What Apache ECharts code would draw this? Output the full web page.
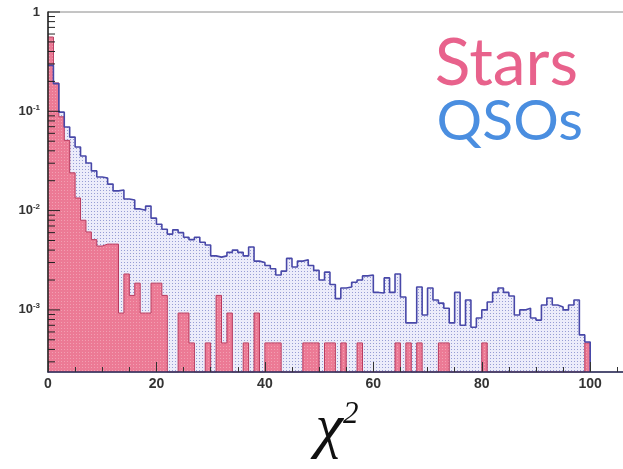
<!DOCTYPE html>
<html>
<head>
<meta charset="utf-8">
<script src="https://cdn.jsdelivr.net/npm/echarts@6/dist/echarts.min.js"></script>
<style>
html,body{margin:0;padding:0;background:#fff;}
#chart{width:623px;height:469px;}
</style>
</head>
<body>
<div id="chart"></div>
<script>
// ---- data (bin left edges 0..99, width 1) ----
const binWidth = 1;
const qsoValues = [
  0.29, 0.19, 0.098, 0.0695, 0.055, 0.0437, 0.0355, 0.0302, 0.0251, 0.0218,
  0.0213, 0.0185, 0.0158, 0.0161, 0.0131, 0.0128, 0.0104, 0.0101, 0.0111, 0.0084,
  0.0073, 0.0065, 0.0058, 0.0064, 0.0060, 0.0054, 0.0051, 0.0054, 0.0048, 0.0045,
  0.0035, 0.0034, 0.0035, 0.0038, 0.0040, 0.0038, 0.0035, 0.0043, 0.0031, 0.0030,
  0.0028, 0.0026, 0.00225, 0.00246, 0.0033, 0.0027, 0.0031, 0.0032, 0.0028, 0.0025,
  0.0020, 0.0024, 0.0018, 0.0013, 0.00166, 0.0017, 0.0019, 0.0020, 0.0022, 0.00225,
  0.0015, 0.00148, 0.0021, 0.0015, 0.0023, 0.00135, 0.00074, 0.00074, 0.0017, 0.00089,
  0.00166, 0.00126, 0.00117, 0.00104, 0.00074, 0.0015, 0.0007, 0.00126, 0.00067, 0.00083,
  0.0010, 0.0012, 0.0015, 0.00166, 0.0015, 0.00138, 0.00089, 0.0010, 0.00104, 0.00083,
  0.00079, 0.00112, 0.00132, 0.00112, 0.00107, 0.0010, 0.00112, 0.00126, 0.00056, 0.000475
];
const starValues = [
  0.56, 0.193, 0.088, 0.051, 0.024, 0.0134, 0.008, 0.0061, 0.0051, 0.0044,
  0.0046, 0.0046, 0.0046, 0.00093, 0.0023, 0.0014, 0.00186, 0.00093, 0.00093, 0.00186,
  0.00186, 0.0014, 0, 0, 0.00093, 0.00093, 0.000465, 0, 0, 0.000465,
  0, 0.0014, 0.000465, 0.00093, 0, 0, 0.000465, 0, 0.00093, 0,
  0.000465, 0.000465, 0.000465, 0, 0, 0, 0, 0.000465, 0.000465, 0.000465,
  0, 0.000465, 0.000465, 0, 0.000465, 0, 0, 0.000465, 0, 0,
  0, 0, 0, 0, 0.000465, 0, 0.000465, 0, 0.000465, 0,
  0, 0, 0.000465, 0.000465, 0, 0, 0, 0, 0, 0,
  0.000465, 0, 0, 0, 0, 0, 0, 0, 0, 0,
  0, 0, 0, 0, 0, 0, 0, 0, 0, 0.000465
];
const xTickValues = [0, 20, 40, 60, 80, 100];
const yDecades = [1, 0.1, 0.01, 0.001];
const legendNames = ['Stars', 'QSOs'];
const xTitle = 'χ';

// ---- axis extents ----
const yMin = 2.37e-4, yMax = 1;
const xMin = 0, xMax = 106.6;

function stepData(vals) {
  const pts = vals.map((v, i) => [i * binWidth, v > 0 ? v : yMin]);
  const last = vals[vals.length - 1];
  pts.push([vals.length * binWidth, last > 0 ? last : yMin]);
  pts.push([vals.length * binWidth, yMin]);
  return pts;
}

function makePattern(bg, dot, size) {
  const c = document.createElement('canvas');
  c.width = size; c.height = size;
  const ctx = c.getContext('2d');
  ctx.fillStyle = bg; ctx.fillRect(0, 0, size, size);
  ctx.fillStyle = dot; ctx.fillRect(1, 1, 1, 1);
  return { image: c, repeat: 'repeat' };
}

// y ticks (major at decades, minor 2..9)
const yTickData = [];
yDecades.concat([0.0001]).forEach(d => {
  for (let k = 1; k <= 9; k++) {
    const v = k * d;
    if (v >= yMin && v <= yMax * 1.0001) yTickData.push([0, v, k === 1 ? 1 : 0]);
  }
});

const chart = echarts.init(document.getElementById('chart'), null, { renderer: 'canvas' });
const option = {
  animation: false,
  backgroundColor: '#ffffff',
  grid: { left: 48, top: 12, right: -3, bottom: 97, containLabel: false, outerBoundsMode: 'none',
          show: true, borderColor: '#8a8a8a', borderWidth: 1, backgroundColor: '#ffffff' },
  xAxis: {
    type: 'value', min: xMin, max: xMax, interval: 20, z: 5,
    axisLine: { show: true, onZero: false, lineStyle: { color: '#2a2a5a', width: 1.5 } },
    axisTick: { show: true, inside: true, length: 10, lineStyle: { color: '#333', width: 1 } },
    minorTick: { show: true, splitNumber: 4, length: 5, lineStyle: { color: '#333', width: 1 } },
    splitLine: { show: false },
    axisLabel: {
      showMaxLabel: false, margin: 5,
      color: '#333', fontSize: 14, fontWeight: 'bold', fontFamily: 'Liberation Sans, Arial, sans-serif',
      formatter: v => (xTickValues.indexOf(v) >= 0 ? String(v) : '')
    },
    name: '{chi|' + xTitle + '}{sup|2}',
    nameLocation: 'middle', nameGap: 27,
    nameTextStyle: {
      rich: {
        chi: { fontFamily: 'Liberation Serif, DejaVu Serif, serif', fontStyle: 'italic', fontSize: 62, color: '#111' },
        sup: { fontFamily: 'Liberation Serif, DejaVu Serif, serif', fontStyle: 'italic', fontSize: 31, color: '#111', verticalAlign: 'top', padding: [0, 0, 28, 0] }
      }
    }
  },
  yAxis: {
    type: 'log', logBase: 10, min: yMin, max: yMax, z: 5,
    axisLine: { show: true, lineStyle: { color: '#222', width: 1.5 } },
    axisTick: { show: false },
    minorTick: { show: false },
    splitLine: { show: false },
    axisLabel: {
      showMinLabel: false, margin: 8,
      formatter: function (v) {
        const e = Math.log10(v);
        const r = Math.round(e);
        if (Math.abs(e - r) > 1e-6) return '';
        if (r === 0) return '{b|1}';
        return '{b|10}{s|' + r + '}';
      },
      rich: {
        b: { fontSize: 13, fontWeight: 'bold', color: '#333', fontFamily: 'Liberation Sans, Arial, sans-serif' },
        s: { fontSize: 8, fontWeight: 'bold', color: '#333', fontFamily: 'Liberation Sans, Arial, sans-serif', verticalAlign: 'top', padding: [0, 0, 8, 0] }
      }
    }
  },
  series: [
    {
      name: 'QSOs area', type: 'line', step: 'end', symbol: 'none', clip: true, z: 1,
      data: stepData(qsoValues),
      lineStyle: { width: 0, opacity: 0 },
      areaStyle: { origin: 'start', color: makePattern('#ececfa', '#979dd4', 3), opacity: 1 }
    },
    {
      name: 'Stars', type: 'line', step: 'end', symbol: 'none', clip: true, z: 2,
      data: stepData(starValues),
      lineStyle: { width: 1, color: '#b83a5e' },
      areaStyle: { origin: 'start', color: makePattern('#ec7a95', '#f29fb2', 3), opacity: 1 }
    },
    {
      name: 'QSOs', type: 'line', step: 'end', symbol: 'none', clip: true, z: 3,
      data: stepData(qsoValues),
      lineStyle: { width: 1.6, color: '#4848a8' }
    },
    {
      name: 'yticks', type: 'custom', coordinateSystem: 'cartesian2d', z: 6, silent: true,
      encode: { x: 0, y: 1 },
      data: yTickData,
      renderItem: function (params, api) {
        const p = api.coord([0, api.value(1)]);
        const len = api.value(2) ? 12 : 7;
        return { type: 'line', shape: { x1: p[0], y1: p[1], x2: p[0] + len, y2: p[1] }, style: { stroke: '#222', lineWidth: 1 } };
      }
    }
  ],
  graphic: [
    { type: 'text', right: 45, top: 31, z: 10,
      style: { text: legendNames[0], fill: '#e8628c', font: 'normal 66px Lato, sans-serif' } },
    { type: 'text', right: 40, top: 93, z: 10,
      style: { text: legendNames[1], fill: '#4a8ee0', font: 'normal 57px Lato, sans-serif' } }
  ]
};
chart.setOption(option);
</script>
</body>
</html>
